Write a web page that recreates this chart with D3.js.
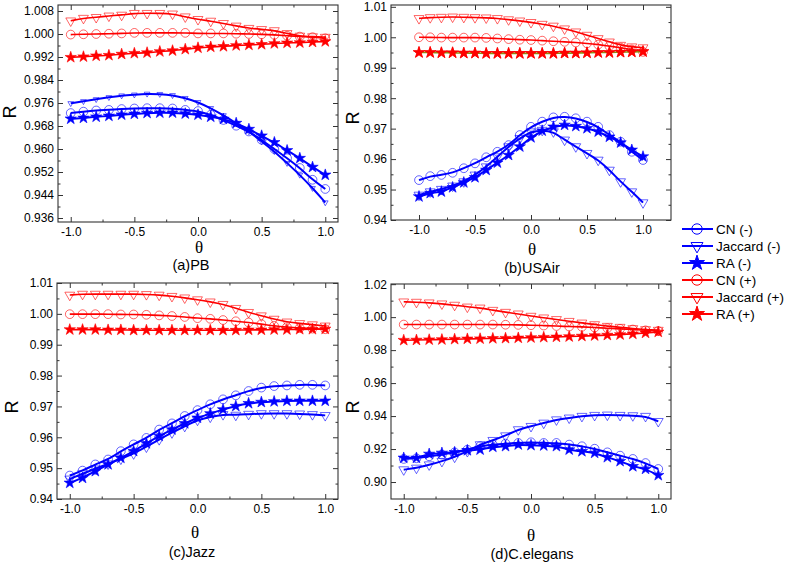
<!DOCTYPE html>
<html><head><meta charset="utf-8">
<script src="https://cdn.jsdelivr.net/npm/d3@7"></script>
<style>body{margin:0;background:#fff} svg{display:block}</style>
</head><body><svg id="c" width="787" height="565"></svg>
<script>
const theta = [-1.0,-0.9,-0.8,-0.7,-0.6,-0.5,-0.4,-0.3,-0.2,-0.1,0.0,0.1,0.2,0.3,0.4,0.5,0.6,0.7,0.8,0.9,1.0];

// (a) PB
const pbCNm  = [0.9725,0.9730,0.9734,0.9736,0.9739,0.9741,0.9742,0.9742,0.9741,0.9736,0.9732,0.9719,0.9701,0.9681,0.9661,0.9632,0.9600,0.9568,0.9534,0.9493,0.9461];
const pbJacm = [0.9759,0.9766,0.9773,0.9780,0.9786,0.9789,0.9792,0.9791,0.9787,0.9777,0.9763,0.9742,0.9717,0.9690,0.9661,0.9626,0.9592,0.9551,0.9510,0.9464,0.9414];
const pbRAm  = [0.9705,0.9708,0.9712,0.9715,0.9719,0.9722,0.9725,0.9726,0.9726,0.9723,0.9719,0.9712,0.9704,0.9690,0.9669,0.9646,0.9623,0.9595,0.9568,0.9537,0.9510];
const pbCNp  = [0.9998,0.9999,1.0000,1.0001,1.0002,1.0004,1.0004,1.0004,1.0004,1.0004,1.0002,1.0002,1.0002,1.0001,1.0000,0.9999,0.9997,0.9994,0.9991,0.9989,0.9985];
const pbJacp = [1.0046,1.0055,1.0058,1.0063,1.0066,1.0072,1.0072,1.0072,1.0070,1.0060,1.0051,1.0045,1.0037,1.0028,1.0020,1.0016,1.0012,1.0002,0.9993,0.9991,0.9989];
const pbRAp  = [0.9919,0.9921,0.9924,0.9926,0.9930,0.9933,0.9935,0.9939,0.9942,0.9947,0.9952,0.9955,0.9957,0.9960,0.9962,0.9964,0.9967,0.9969,0.9970,0.9972,0.9974];

// (b) USAir
const usCNm  = [0.9531,0.9544,0.9548,0.9555,0.9570,0.9586,0.9606,0.9624,0.9646,0.9679,0.9706,0.9723,0.9737,0.9739,0.9734,0.9723,0.9706,0.9679,0.9657,0.9624,0.9597];
const usJacm = [0.9482,0.9493,0.9501,0.9512,0.9526,0.9548,0.9575,0.9608,0.9641,0.9668,0.9690,0.9695,0.9690,0.9663,0.9641,0.9619,0.9597,0.9564,0.9526,0.9493,0.9457];
const usRAm  = [0.9477,0.9488,0.9493,0.9507,0.9523,0.9540,0.9564,0.9588,0.9613,0.9641,0.9671,0.9693,0.9706,0.9712,0.9708,0.9701,0.9690,0.9673,0.9654,0.9630,0.9608];
const usCNp  = [1.0000,1.0000,0.9999,0.9999,0.9999,0.9999,0.9998,0.9996,0.9994,0.9992,0.9991,0.9989,0.9987,0.9985,0.9983,0.9980,0.9976,0.9971,0.9966,0.9960,0.9952];
const usJacp = [1.0062,1.0065,1.0066,1.0067,1.0066,1.0065,1.0064,1.0062,1.0058,1.0054,1.0049,1.0043,1.0037,1.0028,1.0018,1.0007,0.9996,0.9985,0.9974,0.9969,0.9966];
const usRAp  = [0.9950,0.9950,0.9949,0.9949,0.9948,0.9948,0.9947,0.9947,0.9947,0.9947,0.9947,0.9947,0.9947,0.9948,0.9948,0.9949,0.9950,0.9950,0.9951,0.9952,0.9953];

// (c) Jazz
const jzCNm  = [0.9476,0.9492,0.9512,0.9528,0.9555,0.9577,0.9598,0.9625,0.9645,0.9669,0.9688,0.9707,0.9723,0.9736,0.9750,0.9761,0.9766,0.9768,0.9770,0.9770,0.9768];
const jzJacm = [0.9465,0.9482,0.9498,0.9514,0.9530,0.9547,0.9569,0.9593,0.9615,0.9636,0.9656,0.9666,0.9674,0.9672,0.9675,0.9677,0.9677,0.9677,0.9676,0.9674,0.9671];
const jzRAm  = [0.9452,0.9468,0.9490,0.9512,0.9533,0.9555,0.9580,0.9604,0.9625,0.9645,0.9663,0.9677,0.9690,0.9701,0.9710,0.9714,0.9716,0.9718,0.9718,0.9718,0.9718];
const jzCNp  = [0.9999,0.9999,0.9999,0.9999,0.9998,0.9998,0.9997,0.9995,0.9993,0.9990,0.9986,0.9984,0.9980,0.9976,0.9972,0.9967,0.9961,0.9957,0.9954,0.9952,0.9950];
const jzJacp = [1.0061,1.0064,1.0064,1.0064,1.0064,1.0064,1.0063,1.0061,1.0057,1.0052,1.0046,1.0039,1.0031,1.0018,1.0005,0.9994,0.9983,0.9974,0.9969,0.9965,0.9961];
const jzRAp  = [0.9949,0.9949,0.9949,0.9948,0.9948,0.9947,0.9947,0.9947,0.9947,0.9947,0.9947,0.9947,0.9947,0.9947,0.9948,0.9948,0.9949,0.9949,0.9950,0.9950,0.9951];

// (d) C.elegans
const ceCNm  = [0.9140,0.9144,0.9156,0.9166,0.9180,0.9196,0.9217,0.9227,0.9233,0.9237,0.9241,0.9237,0.9237,0.9227,0.9217,0.9202,0.9180,0.9160,0.9140,0.9115,0.9079];
const ceJacm = [0.9075,0.9085,0.9105,0.9126,0.9152,0.9186,0.9227,0.9253,0.9281,0.9318,0.9338,0.9358,0.9378,0.9389,0.9399,0.9405,0.9407,0.9405,0.9403,0.9399,0.9368];
const ceRAm  = [0.9146,0.9146,0.9170,0.9176,0.9180,0.9192,0.9196,0.9213,0.9217,0.9227,0.9223,0.9221,0.9217,0.9196,0.9186,0.9176,0.9150,0.9126,0.9095,0.9079,0.9041];
const ceCNp  = [0.9955,0.9955,0.9955,0.9955,0.9955,0.9955,0.9955,0.9955,0.9954,0.9953,0.9951,0.9949,0.9946,0.9943,0.9941,0.9937,0.9933,0.9929,0.9925,0.9920,0.9916];
const ceJacp = [1.0093,1.0091,1.0087,1.0081,1.0073,1.0062,1.0056,1.0042,1.0030,1.0020,1.0006,0.9996,0.9986,0.9975,0.9965,0.9955,0.9945,0.9939,0.9931,0.9925,0.9921];
const ceRAp  = [0.9860,0.9861,0.9863,0.9864,0.9866,0.9868,0.9869,0.9871,0.9872,0.9874,0.9876,0.9878,0.9880,0.9882,0.9885,0.9888,0.9891,0.9894,0.9898,0.9904,0.9910];

const seriesNames  = ["CN (-)","Jaccard (-)","RA (-)","CN (+)","Jaccard (+)","RA (+)"];
const seriesColors = ["#0000ff","#0000ff","#0000ff","#ff0000","#ff0000","#ff0000"];
const seriesShapes = ["circle","triangle","star","circle","triangle","star"];

const xTicks = [-1.0,-0.5,0.0,0.5,1.0];
const xMinor = [-0.75,-0.25,0.25,0.75];
const yTicksPB = [0.936,0.944,0.952,0.960,0.968,0.976,0.984,0.992,1.000,1.008];
const yTicksUS = [0.94,0.95,0.96,0.97,0.98,0.99,1.00,1.01];
const yTicksJZ = [0.94,0.95,0.96,0.97,0.98,0.99,1.00,1.01];
const yTicksCE = [0.90,0.92,0.94,0.96,0.98,1.00,1.02];
const panelTitles = ["(a)PB","(b)USAir","(c)Jazz","(d)C.elegans"];

const svg = d3.select("#c");
const FONT = "'Liberation Sans', Arial, sans-serif";

// thb / tb: baselines of the θ label and of the panel title
const panels = [
  {title:panelTitles[0], series:[pbCNm,pbJacm,pbRAm,pbCNp,pbJacp,pbRAp], yTicks:yTicksPB, dec:3,
   xr:[58,338], yr:[222,5], xd:[-1.1,1.1], yd:[0.93461,1.01009],
   rx:10, ry:112, thx:199, thb:253, tx:191, tb:270, smallJac:true},
  {title:panelTitles[1], series:[usCNm,usJacm,usRAm,usCNp,usJacp,usRAp], yTicks:yTicksUS, dec:2,
   xr:[391,671], yr:[220,5], xd:[-1.25,1.25], yd:[0.94,1.0106],
   rx:353, ry:118, thx:532, thb:255, tx:532, tb:273, olive:true},
  {title:panelTitles[2], series:[jzCNm,jzJacm,jzRAm,jzCNp,jzJacp,jzRAp], yTicks:yTicksJZ, dec:2,
   xr:[57,338], yr:[499,283], xd:[-1.1,1.1], yd:[0.94,1.01],
   rx:12, ry:407, thx:195, thb:538, tx:192, tb:557},
  {title:panelTitles[3], series:[ceCNm,ceJacm,ceRAm,ceCNp,ceJacp,ceRAp], yTicks:yTicksCE, dec:2,
   xr:[391,671], yr:[499,284], xd:[-1.1,1.1], yd:[0.8897,1.0201],
   rx:353, ry:407, thx:531, thb:541, tx:532, tb:559}
];

function symbolFor(shape, size) {
  const t = shape==="circle"?d3.symbolCircle:shape==="triangle"?d3.symbolTriangle:d3.symbolStar;
  return d3.symbol().type(t).size(size)();
}

panels.forEach(p => {
  const x = d3.scaleLinear().domain(p.xd).range(p.xr);
  const y = d3.scaleLinear().domain(p.yd).range(p.yr);
  const g = svg.append("g");
  const step = p.yTicks[1]-p.yTicks[0];
  const yMinor = p.yTicks.map(v => v + step/2).filter(v => v < p.yd[1]);
  const fmtY = d => d.toFixed(p.dec);
  const fmtX = d => d.toFixed(1);
  const [x0,x1] = p.xr, [y0,y1] = p.yr;

  function styleAxis(sel){
    sel.select(".domain").remove();
    sel.selectAll("line").attr("stroke","#333").attr("stroke-width",1);
    sel.selectAll("text").attr("font-family",FONT).attr("font-size",12).attr("fill","#000");
  }
  g.append("g").attr("transform",`translate(${x0},0)`)
    .call(d3.axisLeft(y).tickValues(p.yTicks).tickFormat(fmtY).tickSizeInner(-5).tickSizeOuter(0).tickPadding(4)).call(styleAxis);
  g.append("g").attr("transform",`translate(${x0},0)`)
    .call(d3.axisLeft(y).tickValues(yMinor).tickFormat("").tickSizeInner(-2.5).tickSizeOuter(0)).call(styleAxis);
  g.append("g").attr("transform",`translate(${x1},0)`)
    .call(d3.axisRight(y).tickValues(p.yTicks).tickFormat("").tickSizeInner(-5).tickSizeOuter(0)).call(styleAxis);
  g.append("g").attr("transform",`translate(${x1},0)`)
    .call(d3.axisRight(y).tickValues(yMinor).tickFormat("").tickSizeInner(-2.5).tickSizeOuter(0)).call(styleAxis);
  g.append("g").attr("transform",`translate(0,${y0})`)
    .call(d3.axisBottom(x).tickValues(xTicks).tickFormat(fmtX).tickSizeInner(-5).tickSizeOuter(0).tickPadding(5)).call(styleAxis);
  g.append("g").attr("transform",`translate(0,${y0})`)
    .call(d3.axisBottom(x).tickValues(xMinor).tickFormat("").tickSizeInner(-2.5).tickSizeOuter(0)).call(styleAxis);
  g.append("g").attr("transform",`translate(0,${y1})`)
    .call(d3.axisTop(x).tickValues(xTicks).tickFormat("").tickSizeInner(-5).tickSizeOuter(0)).call(styleAxis);
  g.append("g").attr("transform",`translate(0,${y1})`)
    .call(d3.axisTop(x).tickValues(xMinor).tickFormat("").tickSizeInner(-2.5).tickSizeOuter(0)).call(styleAxis);
  g.append("rect").attr("x",x0).attr("y",y1).attr("width",x1-x0).attr("height",y0-y1)
    .attr("fill","none").attr("stroke","#333").attr("stroke-width",1.1);

  const line = d3.line().x((d,i)=>x(theta[i])).y(d=>y(d)).curve(d3.curveBasis);

  p.series.forEach((vals, si) => {
    const col = seriesColors[si], shape = seriesShapes[si];
    let size = shape==="circle"?60:shape==="triangle"?42:40;
    if (p.smallJac && si===1) size = 14;
    const sym = symbolFor(shape, size);
    g.append("g").selectAll("path").data(vals).join("path")
      .attr("d", sym)
      .attr("transform",(d,i)=>`translate(${x(theta[i])},${y(d)})${shape==="triangle"?" rotate(180)":""}`)
      .attr("fill", shape==="star"?col:"none")
      .attr("stroke", col)
      .attr("stroke-opacity", shape==="star"?1:0.6)
      .attr("stroke-width", shape==="star"?0.6:1);
  });
  p.series.forEach((vals, si) => {
    let col = seriesColors[si];
    if (p.olive && si===5) col = "#8c8c10";
    g.append("path").datum(vals).attr("d", line)
      .attr("fill","none").attr("stroke",col)
      .attr("stroke-width", si<3?2:1.6);
  });
  if (p.olive) {
    const vals = p.series[5];
    g.append("g").selectAll("path").data(vals).join("path")
      .attr("d", symbolFor("star",40))
      .attr("transform",(d,i)=>`translate(${x(theta[i])},${y(d)})`)
      .attr("fill","#ff0000").attr("stroke","#ff0000").attr("stroke-width",0.6);
  }

  svg.append("text").attr("transform",`translate(${p.rx},${p.ry}) rotate(-90)`)
    .attr("text-anchor","middle").attr("dominant-baseline","central")
    .attr("font-family",FONT).attr("font-size",18).text("R");
  svg.append("text").attr("x",p.thx).attr("y",p.thb)
    .attr("text-anchor","middle")
    .attr("font-family","'Liberation Serif','Times New Roman',serif").attr("font-size",17).text("θ");
  svg.append("text").attr("x",p.tx).attr("y",p.tb)
    .attr("text-anchor","middle")
    .attr("font-family",FONT).attr("font-size",14.5).text(p.title);
});

// legend
const lg = svg.append("g");
seriesNames.forEach((name, i) => {
  const yy = 229 + i*17;
  const col = seriesColors[i], shape = seriesShapes[i];
  lg.append("line").attr("x1",682).attr("x2",713).attr("y1",yy).attr("y2",yy)
    .attr("stroke",col).attr("stroke-width",2);
  const size = shape==="circle"?85:shape==="triangle"?62:70;
  lg.append("path").attr("d", symbolFor(shape,size))
    .attr("transform",`translate(697,${yy})${shape==="triangle"?" rotate(180)":""}`)
    .attr("fill", shape==="star"?col:"none").attr("stroke",col).attr("stroke-width",1);
  lg.append("text").attr("x",716).attr("y",yy).attr("dominant-baseline","central")
    .attr("font-family",FONT).attr("font-size",13.5).text(name);
});
</script></body></html>
